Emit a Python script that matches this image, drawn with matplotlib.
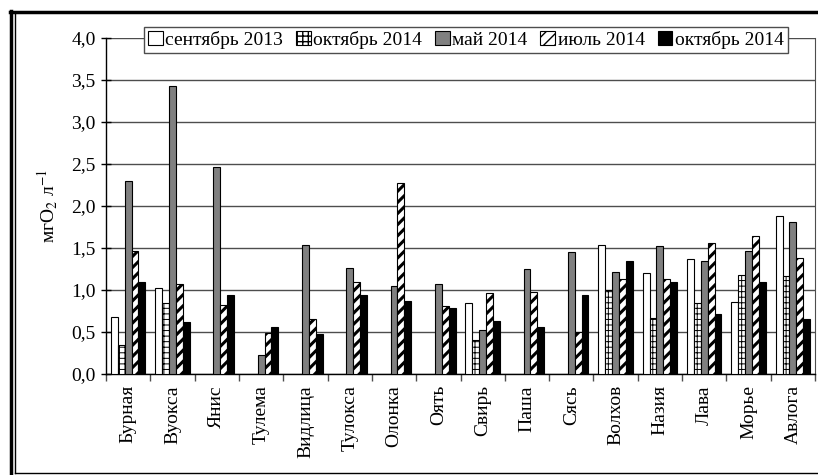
import numpy as np
import matplotlib
matplotlib.use('Agg')
import matplotlib.pyplot as plt
from matplotlib.patches import Rectangle
from matplotlib.lines import Line2D

plt.rcParams['font.family'] = ['Liberation Serif', 'DejaVu Serif']
plt.rcParams['mathtext.fontset'] = 'stix'
plt.rcParams['hatch.color'] = 'black'

# rivers
rivers = ['Бурная', 'Вуокса', 'Янис', 'Тулема', 'Видлица', 'Тулокса', 'Олонка', 'Оять',
          'Свирь', 'Паша', 'Сясь', 'Волхов', 'Назия', 'Лава', 'Морье', 'Авлога']
nan = np.nan
# values, мгО2/л
sep2013 = [0.68, 1.02, nan, nan, nan, nan, nan, nan, 0.85, nan, nan, 1.54, 1.20, 1.37, 0.86, 1.88]
oct2014_a = [0.34, 0.84, nan, nan, nan, nan, nan, nan, 0.40, nan, nan, 1.00, 0.67, 0.85, 1.18, 1.17]
may2014 = [2.30, 3.43, 2.47, 0.23, 1.53, 1.26, 1.05, 1.07, 0.52, 1.25, 1.45, 1.21, 1.52, 1.34, 1.46, 1.81]
jul2014 = [1.46, 1.07, 0.82, 0.49, 0.65, 1.10, 2.27, 0.81, 0.97, 0.98, 0.50, 1.13, 1.13, 1.56, 1.64, 1.38]
oct2014_b = [1.09, 0.62, 0.94, 0.56, 0.48, 0.94, 0.87, 0.79, 0.63, 0.56, 0.94, 1.34, 1.09, 0.71, 1.10, 0.65]
labels = ['сентябрь 2013', 'октябрь 2014', 'май 2014', 'июль 2014', 'октябрь 2014']
yticks = [0.0, 0.5, 1.0, 1.5, 2.0, 2.5, 3.0, 3.5, 4.0]

series = [sep2013, oct2014_a, may2014, jul2014, oct2014_b]
styles = [dict(color='white', hatch=None, hlw=1.0),
          dict(color='white', hatch='+++', hlw=0.7),
          dict(color='#808080', hatch=None, hlw=1.0),
          dict(color='white', hatch='///', hlw=2.2),
          dict(color='black', hatch=None, hlw=1.0)]

fig = plt.figure(figsize=(8.18, 4.75), dpi=100)
ax = fig.add_axes([106/818, 101/475, 709/818, 336/475])

x = np.arange(len(rivers))
w = 0.155
handles = []
for i, (vals, st) in enumerate(zip(series, styles)):
    bars = ax.bar(x + (i - 2) * w, vals, width=w, color=st['color'], edgecolor='black',
                  linewidth=0.8, hatch=st['hatch'], zorder=3)
    for b in bars:
        try:
            b.set_hatch_linewidth(st['hlw'])
        except AttributeError:
            pass
    h = Rectangle((0, 0), 1, 1, facecolor=st['color'], edgecolor='black', linewidth=0.8,
                  hatch=st['hatch'])
    try:
        h.set_hatch_linewidth(st['hlw'] * 0.8)
    except AttributeError:
        pass
    handles.append(h)

ax.set_xlim(-0.5, len(rivers) - 0.5)
ax.set_ylim(0, 4.0)
ax.set_yticks(yticks)
ax.set_yticklabels(['{:.1f}'.format(v).replace('.', ',') for v in yticks], fontsize=14)
ax.yaxis.grid(True, color='0.3', linewidth=1.0, zorder=0)
ax.tick_params(axis='y', direction='inout', length=7, width=1, pad=4)

ax.set_xticks(np.arange(len(rivers) + 1) - 0.5)
ax.set_xticklabels([])
ax.set_xticks(x, minor=True)
ax.set_xticklabels(rivers, minor=True, rotation=90, fontsize=14)
ax.tick_params(axis='x', which='major', direction='out', length=5, width=1, color='0.3')
ax.tick_params(axis='x', which='minor', length=0, pad=8)

ax.spines['top'].set_visible(False)
ax.spines['right'].set_color('0.3')
ax.spines['left'].set_linewidth(1.0)
ax.spines['bottom'].set_linewidth(1.0)
ax.set_axisbelow(True)

ax.set_ylabel('мгО$_2$ л$^{-1}$', fontsize=14, labelpad=8)

leg = fig.legend(handles, labels, loc='center', bbox_to_anchor=(466/818, 1 - 40/475), ncol=5,
                 fontsize=14, frameon=True, fancybox=False, edgecolor='0.3', framealpha=1,
                 handlelength=0.75, handleheight=0.75, handletextpad=0.15, columnspacing=0.65,
                 borderpad=0.2, borderaxespad=0)
leg.get_frame().set_linewidth(1.0)

# outer frame
fig.add_artist(Line2D([10.5/818, 10.5/818], [0, 1 - 11/475], transform=fig.transFigure,
                      color='black', linewidth=2.5))
fig.add_artist(Line2D([10/818, 1.0], [1 - 12/475, 1 - 12/475], transform=fig.transFigure,
                      color='black', linewidth=2.5))
fig.add_artist(Line2D([15/818, 15/818], [2/475, 1 - 12/475], transform=fig.transFigure,
                      color='black', linewidth=1.0))
fig.add_artist(Line2D([15/818, 1.0], [2/475, 2/475], transform=fig.transFigure,
                      color='black', linewidth=1.0))

fig.savefig('out.png', dpi=100)
